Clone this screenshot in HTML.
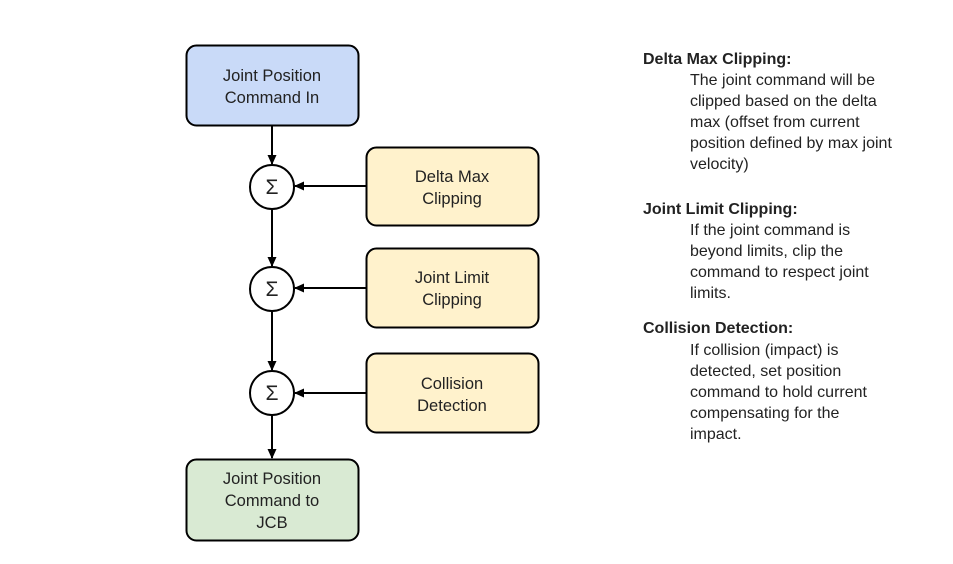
<!DOCTYPE html>
<html><head><style>
body{margin:0;width:953px;height:564px;background:#fff;font-family:"Liberation Sans",Arial,Helvetica,sans-serif;position:relative;overflow:hidden}
svg text{font-family:"Liberation Sans",Arial,Helvetica,sans-serif}
.t{position:absolute;font-size:16px;color:#222;line-height:21px;white-space:nowrap}
.h{font-weight:bold;left:643px}
.b{left:690px}
</style></head><body>
<svg width="953" height="564" style="position:absolute;left:0;top:0" font-size="16.5" fill="#222">
<defs><marker id="a" markerWidth="10" markerHeight="10" refX="9" refY="5" orient="auto" markerUnits="userSpaceOnUse"><path d="M0,0.5 L10,5 L0,9.5z" fill="#000"/></marker></defs>
<rect x="186.5" y="45.5" width="172" height="80" rx="10" fill="#c9daf8" stroke="#000" stroke-width="2"/>
<rect x="366.5" y="147.5" width="172" height="78" rx="10" fill="#fff2cc" stroke="#000" stroke-width="2"/>
<rect x="366.5" y="248.5" width="172" height="79" rx="10" fill="#fff2cc" stroke="#000" stroke-width="2"/>
<rect x="366.5" y="353.5" width="172" height="79" rx="10" fill="#fff2cc" stroke="#000" stroke-width="2"/>
<rect x="186.5" y="459.5" width="172" height="81" rx="10" fill="#d9ead3" stroke="#000" stroke-width="2"/>
<g stroke="#000" stroke-width="2">
<line x1="272" y1="126" x2="272" y2="164" marker-end="url(#a)"/>
<line x1="272" y1="209" x2="272" y2="266" marker-end="url(#a)"/>
<line x1="272" y1="311" x2="272" y2="370" marker-end="url(#a)"/>
<line x1="272" y1="415" x2="272" y2="458" marker-end="url(#a)"/>
<line x1="366" y1="186" x2="295" y2="186" marker-end="url(#a)"/>
<line x1="366" y1="288" x2="295" y2="288" marker-end="url(#a)"/>
<line x1="366" y1="393" x2="295" y2="393" marker-end="url(#a)"/>
<circle cx="272" cy="187" r="22" fill="#fff"/>
<circle cx="272" cy="289" r="22" fill="#fff"/>
<circle cx="272" cy="393" r="22" fill="#fff"/>
</g>
<g text-anchor="middle">
<g font-size="21"><text x="272" y="194">Σ</text><text x="272" y="296">Σ</text><text x="272" y="400">Σ</text></g>
<text x="272" y="81">Joint Position</text><text x="272" y="103">Command In</text>
<text x="452" y="182">Delta Max</text><text x="452" y="204">Clipping</text>
<text x="452" y="283">Joint Limit</text><text x="452" y="305">Clipping</text>
<text x="452" y="389">Collision</text><text x="452" y="411">Detection</text>
<text x="272" y="484">Joint Position</text><text x="272" y="506">Command to</text><text x="272" y="528">JCB</text>
</g>
</svg>
<div class="t h" style="top:49px">Delta Max Clipping:</div>
<div class="t b" style="top:70px">The joint command will be<br>clipped based on the delta<br>max (offset from current<br>position defined by max joint<br>velocity)</div>
<div class="t h" style="top:199px">Joint Limit Clipping:</div>
<div class="t b" style="top:220px">If the joint command is<br>beyond limits, clip the<br>command to respect joint<br>limits.</div>
<div class="t h" style="top:318px">Collision Detection:</div>
<div class="t b" style="top:340px">If collision (impact) is<br>detected, set position<br>command to hold current<br>compensating for the<br>impact.</div>
</body></html>
